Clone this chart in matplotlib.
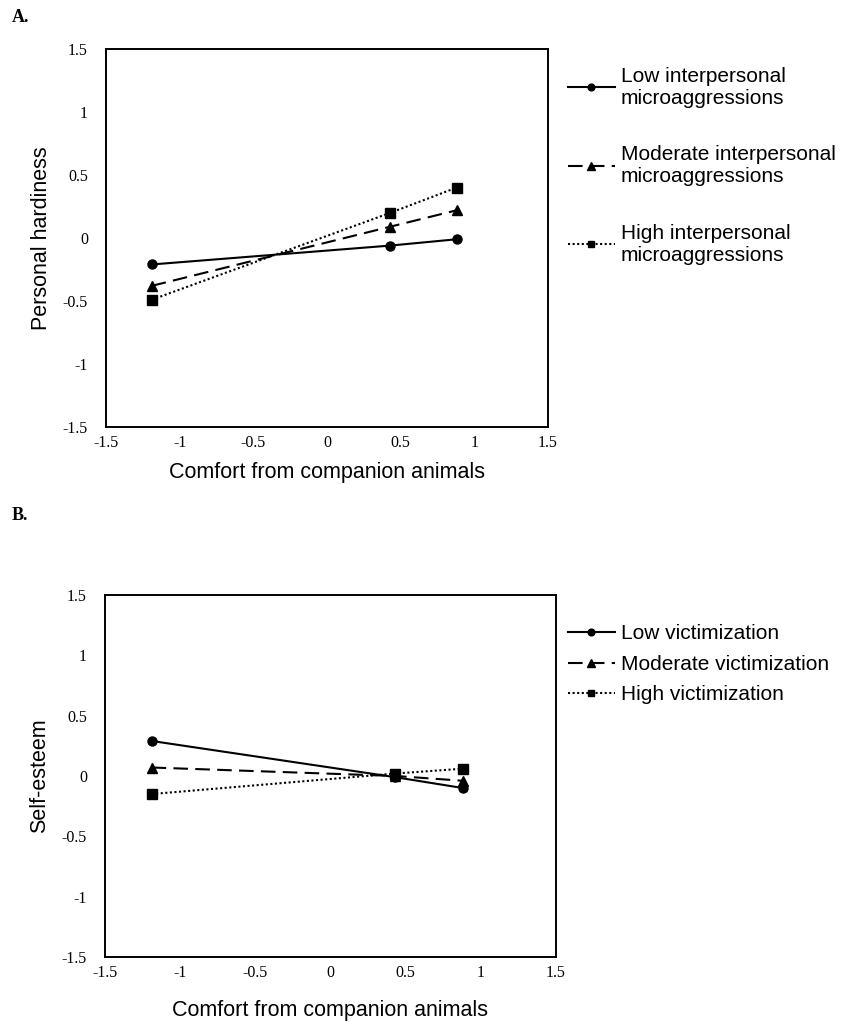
import matplotlib
matplotlib.use("Agg")
import matplotlib.pyplot as plt

# x positions of the three levels of comfort from companion animals
x_vals = [-1.19, 0.43, 0.88]

# panel A: personal hardiness
a_low = [-0.21, -0.06, -0.01]
a_mod = [-0.38, 0.09, 0.22]
a_high = [-0.49, 0.20, 0.40]
a_labels = ["Low interpersonal\nmicroaggressions",
            "Moderate interpersonal\nmicroaggressions",
            "High interpersonal\nmicroaggressions"]

# panel B: self-esteem
b_low = [0.29, -0.01, -0.10]
b_mod = [0.07, 0.00, -0.04]
b_high = [-0.15, 0.02, 0.06]
b_labels = ["Low victimization", "Moderate victimization", "High victimization"]

ticks = [-1.5, -1, -0.5, 0, 0.5, 1, 1.5]
tick_labels = ["-1.5", "-1", "-0.5", "0", "0.5", "1", "1.5"]

fig = plt.figure(figsize=(8.5, 10.27), dpi=100)
ax1 = fig.add_axes([0.1247, 0.5842, 0.52, 0.3681])
ax2 = fig.add_axes([0.1235, 0.0682, 0.5306, 0.3525])

styles = [dict(linestyle="-", marker="o", markersize=6.5),
          dict(linestyle=(0, (7, 3.5)), marker="^", markersize=7),
          dict(linestyle=(0, (1, 1.2)), marker="s", markersize=6.5)]


def setup(ax, ylabel, xlab_y):
    ax.set_xlim(-1.5, 1.5)
    ax.set_ylim(-1.5, 1.5)
    ax.set_xticks(ticks)
    ax.set_xticklabels(tick_labels)
    ax.set_yticks(ticks)
    ax.set_yticklabels(tick_labels)
    ax.tick_params(length=0, labelsize=11.5, pad=6)
    ax.tick_params(axis="y", pad=13)
    for t in ax.get_xticklabels() + ax.get_yticklabels():
        t.set_fontfamily("Liberation Serif")
    for s in ax.spines.values():
        s.set_linewidth(1.4)
        s.set_color("black")
    ax.set_xlabel("Comfort from companion animals", fontsize=15.5,
                  family="Liberation Sans")
    ax.xaxis.set_label_coords(0.5, xlab_y)
    ax.set_ylabel(ylabel, fontsize=15.5, family="Liberation Sans")
    ax.yaxis.set_label_coords(-0.122, 0.5)


leg_kw = dict(loc="upper left", bbox_transform=fig.transFigure, frameon=False,
              prop={"family": "Liberation Sans", "size": 15},
              handlelength=2.26, handletextpad=0.29, markerscale=0.75,
              borderaxespad=0, borderpad=0)

for ys, st, lab in zip([a_low, a_mod, a_high], styles, a_labels):
    ax1.plot(x_vals, ys, color="black", linewidth=1.5, label=lab, **st)
setup(ax1, "Personal hardiness", -0.093)
leg1 = ax1.legend(bbox_to_anchor=(0.668, 0.935), labelspacing=1.8, **leg_kw)

for ys, st, lab in zip([b_low, b_mod, b_high], styles, b_labels):
    ax2.plot(x_vals, ys, color="black", linewidth=1.5, label=lab, **st)
setup(ax2, "Self-esteem", -0.119)
leg2 = ax2.legend(bbox_to_anchor=(0.668, 0.392), labelspacing=0.55, **leg_kw)

fig.text(12 / 850, 1 - 18 / 1027, "A.", fontsize=13, fontweight="bold",
         family="Liberation Serif", va="center")
fig.text(12 / 850, 1 - 515 / 1027, "B.", fontsize=13, fontweight="bold",
         family="Liberation Serif", va="center")

fig.savefig("out.png", dpi=100)
